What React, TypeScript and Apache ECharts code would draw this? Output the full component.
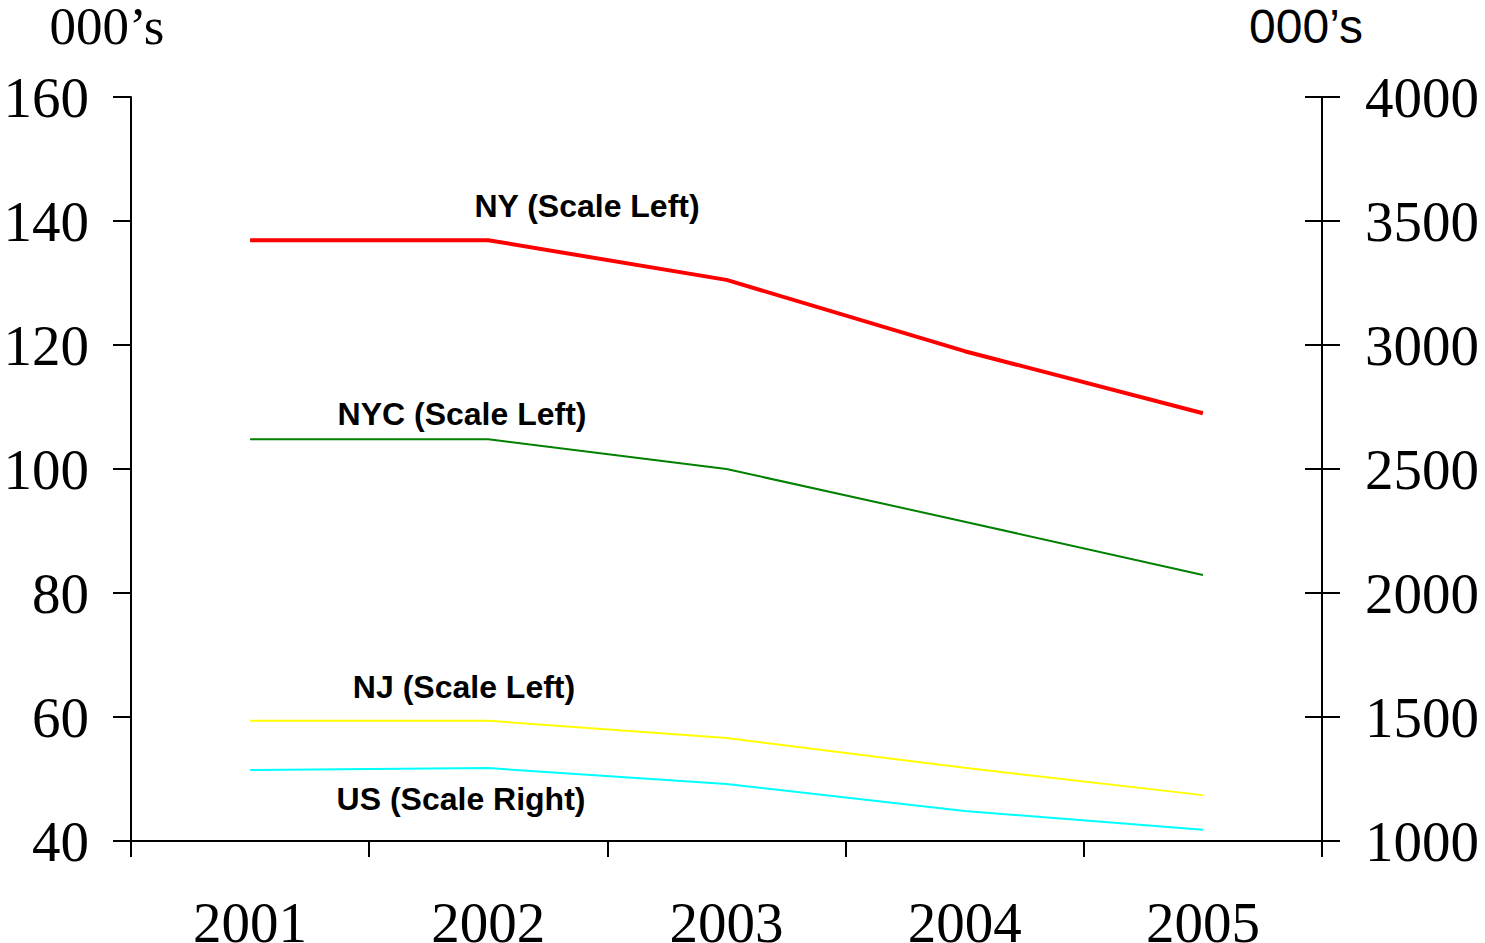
import React, { useEffect, useRef } from "react";
import * as echarts from "echarts";

const years = ["2001", "2002", "2003", "2004", "2005"];
const nyValues = [136.9, 136.9, 130.5, 119.0, 109.0];
const nycValues = [104.8, 104.8, 100.0, 91.5, 82.9];
const njValues = [59.4, 59.4, 56.6, 51.8, 47.4];
const usValues = [1286, 1294, 1230, 1121, 1045];

const seriesLabels = [
  { text: "NY (Scale Left)", x: 587, y: 206 },
  { text: "NYC (Scale Left)", x: 462, y: 414 },
  { text: "NJ (Scale Left)", x: 464, y: 687 },
  { text: "US (Scale Right)", x: 461, y: 799 },
];

const SERIF = "'Liberation Serif', 'Times New Roman', serif";
const SANS = "'Liberation Sans', Arial, sans-serif";

export default function App() {
  const ref = useRef<HTMLDivElement>(null);
  useEffect(() => {
    if (!ref.current) return;
    const chart = echarts.init(ref.current, null, { renderer: "svg" });
    const axisLine = { show: true, lineStyle: { color: "#000", width: 2 } };
    const rightAxisBase = {
      type: "value" as const,
      position: "right" as const,
      min: 1000,
      max: 4000,
      interval: 500,
      splitLine: { show: false },
      axisLine,
    };
    chart.setOption({
      animation: false,
      backgroundColor: "#fff",
      grid: {
        left: 131,
        right: 163,
        top: 97,
        bottom: 102,
        containLabel: false,
        outerBoundsMode: "none",
      },
      xAxis: {
        type: "category",
        data: years,
        boundaryGap: true,
        axisLine,
        axisTick: { show: true, length: 16, lineStyle: { color: "#000", width: 2 } },
        axisLabel: {
          color: "#000",
          fontFamily: SERIF,
          fontSize: 57,
          lineHeight: 40,
          margin: 61,
        },
        splitLine: { show: false },
      },
      yAxis: [
        {
          type: "value",
          position: "left",
          min: 40,
          max: 160,
          interval: 20,
          splitLine: { show: false },
          axisLine,
          axisTick: { show: true, length: 18, lineStyle: { color: "#000", width: 2 } },
          axisLabel: { color: "#000", fontFamily: SERIF, fontSize: 57, margin: 42 },
        },
        {
          ...rightAxisBase,
          axisTick: { show: true, length: 18, lineStyle: { color: "#000", width: 2 } },
          axisLabel: {
            color: "#000",
            fontFamily: SERIF,
            fontSize: 57,
            margin: 43,
            formatter: (v: number) => String(v),
          },
        },
        {
          ...rightAxisBase,
          axisTick: { show: true, inside: true, length: 17, lineStyle: { color: "#000", width: 2 } },
          axisLabel: { show: false },
        },
      ],
      series: [
        {
          name: "NY",
          type: "line",
          data: nyValues,
          yAxisIndex: 0,
          symbol: "none",
          lineStyle: { color: "#ff0000", width: 4 },
        },
        {
          name: "NYC",
          type: "line",
          data: nycValues,
          yAxisIndex: 0,
          symbol: "none",
          lineStyle: { color: "#008000", width: 2 },
        },
        {
          name: "NJ",
          type: "line",
          data: njValues,
          yAxisIndex: 0,
          symbol: "none",
          lineStyle: { color: "#ffff00", width: 2 },
        },
        {
          name: "US",
          type: "line",
          data: usValues,
          yAxisIndex: 1,
          symbol: "none",
          lineStyle: { color: "#00ffff", width: 2 },
        },
      ],
      graphic: [
        {
          type: "text",
          x: 107,
          y: 26,
          style: {
            text: "000’s",
            fontFamily: SERIF,
            fontSize: 53,
            lineHeight: 40,
            fill: "#000",
            align: "center",
            verticalAlign: "middle",
          },
        },
        {
          type: "text",
          x: 1306,
          y: 26,
          style: {
            text: "000’s",
            fontFamily: SANS,
            fontSize: 48,
            lineHeight: 40,
            fill: "#000",
            align: "center",
            verticalAlign: "middle",
          },
        },
        ...seriesLabels.map((l) => ({
          type: "text",
          x: l.x,
          y: l.y,
          style: {
            text: l.text,
            fontFamily: SANS,
            fontWeight: "bold",
            fontSize: 32,
            fill: "#000",
            align: "center",
            verticalAlign: "middle",
          },
        })),
      ],
    });
    return () => chart.dispose();
  }, []);
  return (
    <div
      ref={ref}
      style={{ position: "absolute", left: 0, top: 0, width: 1485, height: 943 }}
    />
  );
}
